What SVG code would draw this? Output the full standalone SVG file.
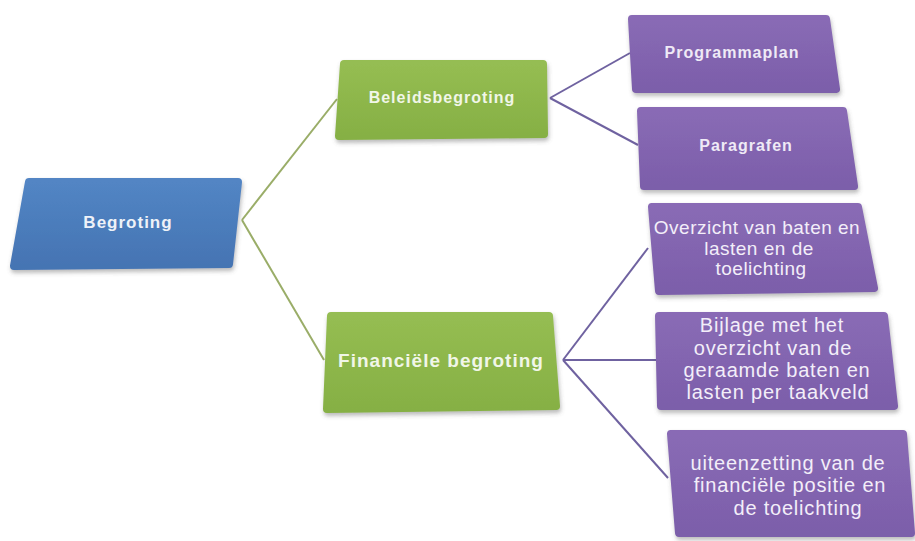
<svg xmlns="http://www.w3.org/2000/svg" width="915" height="541" viewBox="0 0 915 541">
  <defs>
    <linearGradient id="gBlue" x1="0" y1="0" x2="0" y2="1">
      <stop offset="0" stop-color="#5285c4"/>
      <stop offset="1" stop-color="#4574b3"/>
    </linearGradient>
    <linearGradient id="gGreen" x1="0" y1="0" x2="0" y2="1">
      <stop offset="0" stop-color="#95bd52"/>
      <stop offset="1" stop-color="#86b044"/>
    </linearGradient>
    <linearGradient id="gPurple" x1="0" y1="0" x2="0" y2="1">
      <stop offset="0" stop-color="#896bb5"/>
      <stop offset="1" stop-color="#7c5eaa"/>
    </linearGradient>
    <filter id="shadow" x="-10%" y="-10%" width="125%" height="135%">
      <feDropShadow dx="1" dy="3" stdDeviation="2" flood-color="#555" flood-opacity="0.4"/>
    </filter>
  </defs>
  <style>
    .box { stroke-width: 8; stroke-linejoin: round; filter: url(#shadow); }
    .blue { fill: url(#gBlue); stroke: url(#gBlue); }
    .green { fill: url(#gGreen); stroke: url(#gGreen); }
    .purple { fill: url(#gPurple); stroke: url(#gPurple); }
    text { font-family: "Liberation Sans", Arial, sans-serif; text-anchor: middle; }
    .hb { font-weight: bold; fill: #eef2f8; letter-spacing: 1px; }
    .hg { font-weight: bold; fill: #f1f6e8; letter-spacing: 1px; }
    .hp { font-weight: bold; fill: #efeaf6; font-size: 16px; letter-spacing: 1px; }
    .tp { fill: #f3eef9; font-size: 20px; letter-spacing: 0.8px; }
    .tp2 { fill: #f3eef9; font-size: 19px; letter-spacing: 0.5px; }
    .cg { stroke: #9aad68; stroke-width: 2; fill: none; }
    .cp { stroke: #6f62a0; stroke-width: 2; fill: none; }
  </style>
  <rect width="915" height="541" fill="#ffffff"/>

  <g id="connectors">
    <path class="cg" d="M242,220 L337,99"/>
    <path class="cg" d="M242,220 L324,360"/>
    <path class="cp" d="M550,98 L630,53"/>
    <path class="cp" d="M550,98 L638,145"/>
    <path class="cp" d="M563,360 L648,248"/>
    <path class="cp" d="M563,360 L658,360"/>
    <path class="cp" d="M563,360 L668,478"/>
  </g>

  <g id="node-begroting">
    <polygon class="box blue" points="29,182 238,182 229,264 14,266"/>
    <text class="hb" x="128" y="228" font-size="17">Begroting</text>
  </g>

  <g id="node-beleidsbegroting">
    <polygon class="box green" points="344,64 543,64 544,134 339,136"/>
    <text class="hg" x="442" y="103" font-size="16">Beleidsbegroting</text>
  </g>

  <g id="node-financiele">
    <polygon class="box green" points="331,316 549,316 556,406 327,409"/>
    <text class="hg" x="441" y="367" font-size="19">Financiële begroting</text>
  </g>

  <g id="node-programmaplan">
    <polygon class="box purple" points="632,19 826,19 836,89 636,89"/>
    <text class="hp" x="732" y="58">Programmaplan</text>
  </g>

  <g id="node-paragrafen">
    <polygon class="box purple" points="641,111 843,111 854,186 644,186"/>
    <text class="hp" x="746" y="151">Paragrafen</text>
  </g>

  <g id="node-overzicht">
    <polygon class="box purple" points="652,207 858,207 874,288 659,291"/>
    <text class="tp2" x="757" y="234">Overzicht van baten en</text>
    <text class="tp2" x="759" y="255">lasten en de</text>
    <text class="tp2" x="761" y="275">toelichting</text>
  </g>

  <g id="node-bijlage">
    <polygon class="box purple" points="659,316 884,316 894,406 661,406"/>
    <text class="tp" x="772" y="332">Bijlage met het</text>
    <text class="tp" x="773" y="355">overzicht van de</text>
    <text class="tp" x="777" y="377">geraamde baten en</text>
    <text class="tp" x="778" y="399">lasten per taakveld</text>
  </g>

  <g id="node-uiteenzetting">
    <polygon class="box purple" points="671,434 903,434 911,533 679,533"/>
    <text class="tp" x="788" y="470">uiteenzetting van de</text>
    <text class="tp" x="790" y="492">financiële positie en</text>
    <text class="tp" x="798" y="515">de toelichting</text>
  </g>
</svg>
